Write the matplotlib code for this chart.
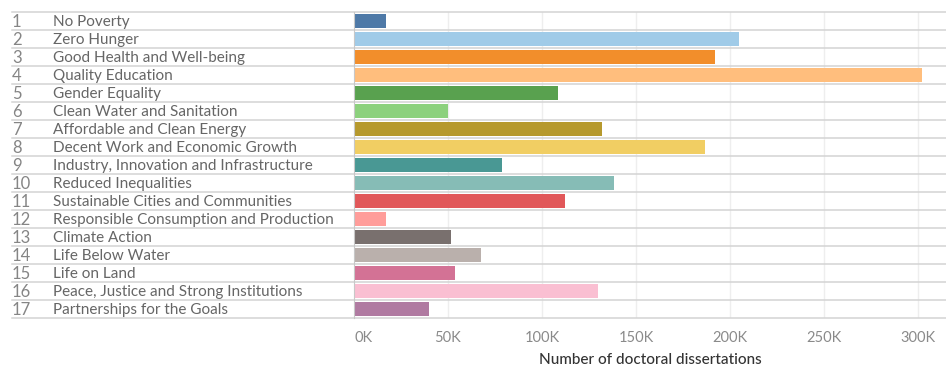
import matplotlib.pyplot as plt
import numpy as np
from matplotlib import transforms

plt.rcParams['font.family'] = ['Lato', 'DejaVu Sans']

goal_nums = list(range(1, 18))
goal_names = ['No Poverty', 'Zero Hunger', 'Good Health and Well-being', 'Quality Education',
              'Gender Equality', 'Clean Water and Sanitation', 'Affordable and Clean Energy',
              'Decent Work and Economic Growth', 'Industry, Innovation and Infrastructure',
              'Reduced Inequalities', 'Sustainable Cities and Communities',
              'Responsible Consumption and Production', 'Climate Action', 'Life Below Water',
              'Life on Land', 'Peace, Justice and Strong Institutions', 'Partnerships for the Goals']
dissertations = [17000, 205000, 192000, 302000, 108500, 50000, 132000, 186500, 78800,
                 138400, 112300, 17000, 51600, 67700, 53900, 130000, 40000]
bar_colors = ['#4e79a7', '#a0cbe8', '#f28e2b', '#ffbe7d', '#59a14f', '#8cd17d', '#b6992d',
              '#f1ce63', '#499894', '#86bcb6', '#e15759', '#ff9d9a', '#79706e', '#bab0ac',
              '#d37295', '#fabfd2', '#b07aa1']
xticks = [0, 50000, 100000, 150000, 200000, 250000, 300000]
xtick_labels = ['0K', '50K', '100K', '150K', '200K', '250K', '300K']

W, H = 946, 368
fig = plt.figure(figsize=(W / 100, H / 100), dpi=100)
ax = fig.add_axes([354 / W, 1 - 318 / H, 592 / W, 306 / H])

y = np.arange(len(goal_names))
ax.barh(y, dissertations, height=0.78, color=bar_colors, zorder=3)
ax.set_ylim(len(goal_names) - 0.5, -0.5)
ax.set_xlim(0, 315000)

# vertical grid
for t in xticks[1:]:
    ax.axvline(t, color='#eeeeee', lw=1, zorder=1)

# row separators run across the label columns too
xmin = (12 - 354) / 592
for b in np.arange(-0.5, len(goal_names)):
    ax.axhline(b, xmin=xmin, xmax=1, color='#d3d3d3', lw=1.1, clip_on=False, zorder=2)

for s in ['top', 'right', 'bottom']:
    ax.spines[s].set_visible(False)
ax.spines['left'].set_color('#c8c8c8')
ax.spines['left'].set_zorder(4)

ax.set_yticks([])
ax.set_xticks(xticks)
ax.set_xticklabels(xtick_labels, fontsize=10.5, color='#8a8a8a')
ax.get_xticklabels()[0].set_horizontalalignment('left')
ax.tick_params(axis='x', length=0, pad=9)
ax.set_xlabel('Number of doctoral dissertations', fontsize=11, color='#333333',
              fontweight='medium', labelpad=6)

trans = transforms.blended_transform_factory(fig.transFigure, ax.transData)
for i, (n, name) in enumerate(zip(goal_nums, goal_names)):
    ax.text(12 / W, i + 0.06, str(n), transform=trans, fontsize=12, color='#858585',
            va='center', ha='left')
    ax.text(53 / W, i + 0.06, name, transform=trans, fontsize=11, color='#666666',
            va='center', ha='left')

fig.savefig('out.png', dpi=100)
